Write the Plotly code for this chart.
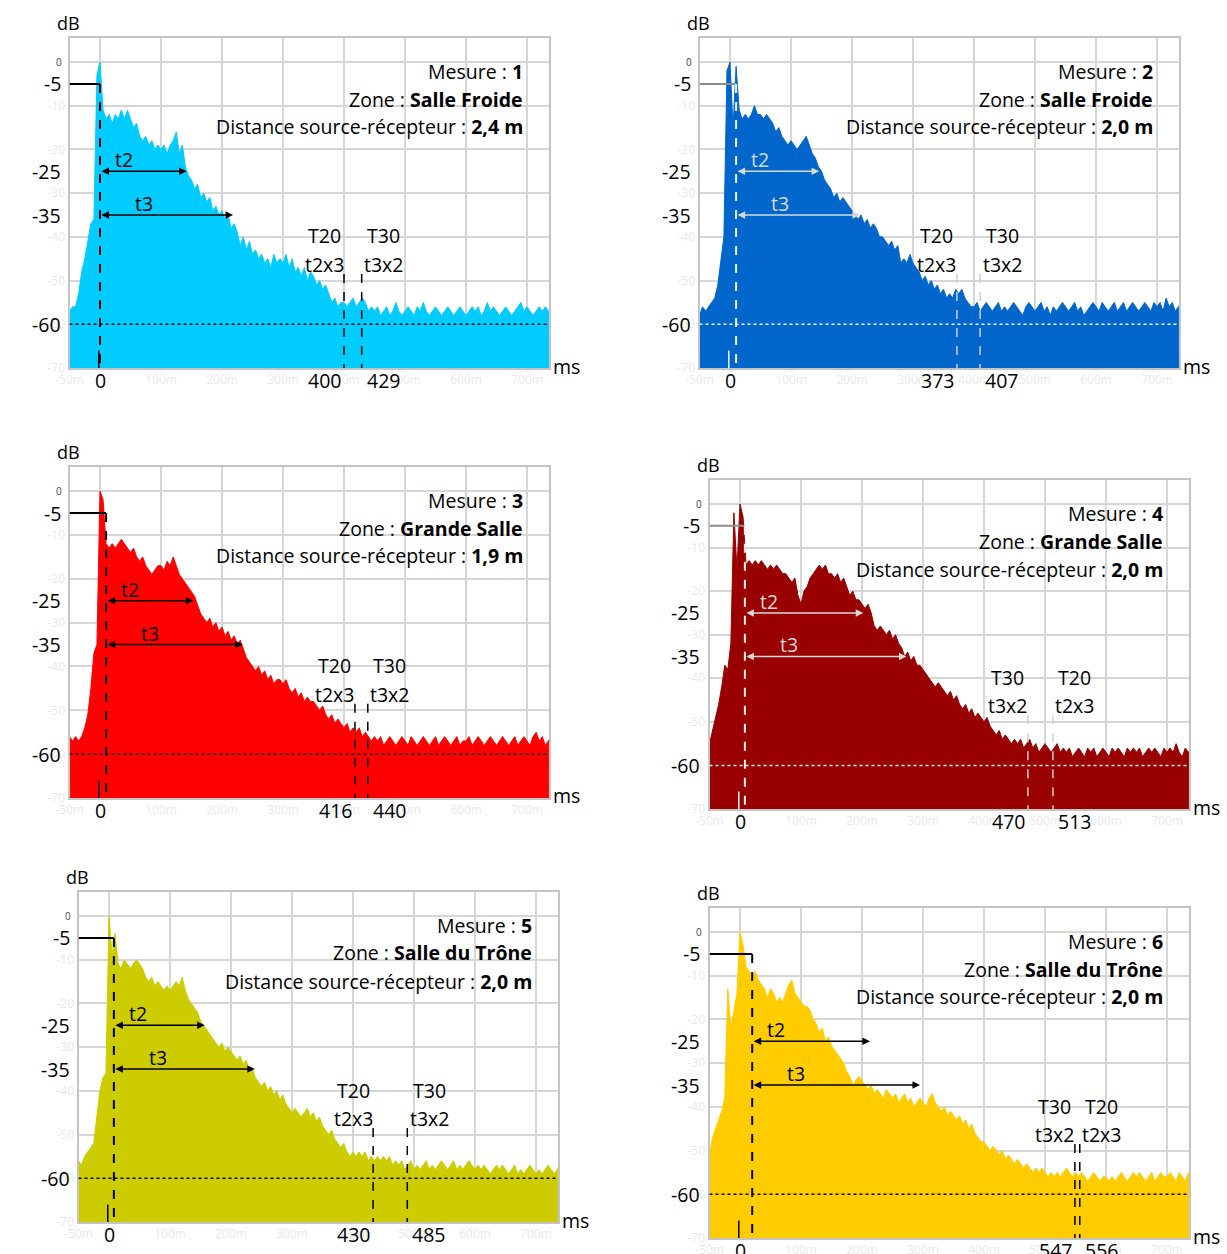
import plotly.graph_objects as go

W, H = 1227, 1254

# time base of the impulse responses (ms), one sample every 5 ms
T_START, T_STEP, N_SAMPLES = -50, 5, 160
t_ms = [T_START + T_STEP * i for i in range(N_SAMPLES)]

# levels in dB (16 rows of 10 samples = 50 ms per row)
level_m1 = [
    -57, -56, -56, -53, -48, -45, -41, -37, -36, -3,
    0, -11, -13, -12, -14, -12, -13, -11, -13, -11,
    -13, -15, -14, -17, -18, -17, -19, -18, -20, -19,
    -20, -19, -21, -19, -18, -16, -21, -19, -24, -26,
    -27, -29, -28, -31, -30, -32, -31, -34, -33, -35,
    -34, -36, -35, -38, -37, -39, -42, -40, -43, -41,
    -44, -43, -45, -44, -46, -45, -47, -44, -46, -45,
    -46, -44, -47, -45, -48, -47, -49, -47, -50, -48,
    -49, -51, -50, -52, -51, -53, -55, -54, -56, -55,
    -55, -56, -55, -54, -56, -55, -54, -55, -57, -56,
    -57, -56, -58, -57, -56, -58, -57, -55, -57, -58,
    -57, -56, -57, -58, -56, -57, -55, -57, -58, -57,
    -56, -57, -58, -57, -56, -57, -58, -57, -56, -57,
    -58, -57, -56, -57, -56, -58, -57, -55, -57, -56,
    -57, -58, -57, -56, -57, -58, -57, -56, -55, -57,
    -56, -57, -58, -57, -56, -57, -56, -57, -58, -57,
]
level_m2 = [
    -58, -56, -57, -56, -55, -54, -51, -46, -40, -2,
    0, -15, -1, -11, -13, -12, -13, -12, -10, -12,
    -12, -13, -12, -13, -14, -16, -15, -17, -18, -19,
    -18, -19, -20, -19, -18, -17, -19, -21, -22, -24,
    -25, -27, -28, -29, -31, -30, -32, -31, -32, -33,
    -34, -35, -36, -35, -37, -36, -38, -37, -38, -40,
    -40, -41, -42, -41, -43, -42, -46, -45, -46, -44,
    -46, -47, -48, -50, -49, -51, -50, -52, -51, -53,
    -52, -54, -53, -54, -52, -53, -52, -54, -55, -56,
    -56, -55, -57, -56, -55, -56, -57, -56, -55, -57,
    -56, -57, -56, -55, -56, -57, -58, -56, -55, -56,
    -57, -56, -55, -57, -56, -58, -56, -57, -56, -55,
    -56, -57, -56, -55, -57, -56, -58, -57, -56, -55,
    -56, -57, -55, -56, -57, -56, -55, -57, -56, -55,
    -57, -56, -55, -56, -57, -56, -55, -56, -57, -55,
    -56, -55, -57, -54, -56, -55, -57, -56, -55, -56,
]
level_m3 = [
    -56, -57, -56, -57, -56, -54, -51, -45, -37, -35,
    0, -2, -12, -13, -12, -13, -12, -11, -12, -13,
    -14, -13, -15, -16, -15, -17, -18, -19, -18, -17,
    -17, -18, -16, -17, -15, -17, -19, -20, -21, -22,
    -23, -24, -26, -28, -29, -30, -29, -31, -30, -32,
    -31, -33, -32, -34, -33, -35, -34, -36, -38, -39,
    -40, -41, -40, -42, -41, -43, -42, -44, -43, -43,
    -44, -43, -45, -46, -45, -47, -46, -48, -47, -48,
    -48, -49, -50, -49, -51, -52, -51, -53, -52, -53,
    -54, -53, -55, -54, -55, -54, -56, -55, -56, -57,
    -56, -57, -56, -58, -57, -56, -57, -58, -57, -56,
    -57, -58, -56, -57, -58, -57, -56, -57, -58, -57,
    -56, -58, -57, -56, -57, -58, -57, -56, -58, -57,
    -57, -56, -58, -57, -56, -57, -58, -57, -56, -57,
    -58, -57, -56, -57, -58, -57, -56, -58, -57, -56,
    -57, -58, -56, -55, -57, -56, -58, -57, -56, -57,
]
level_m4 = [
    -55, -52, -49, -46, -42, -37, -38, -32, -2, -15,
    0, -3, -14, -13, -14, -13, -14, -13, -14, -15,
    -14, -15, -14, -15, -16, -16, -17, -18, -17, -21,
    -23, -20, -19, -17, -16, -15, -14, -15, -14, -16,
    -16, -17, -16, -18, -17, -19, -21, -20, -22, -22,
    -23, -24, -23, -25, -28, -29, -28, -29, -30, -29,
    -31, -30, -32, -33, -35, -34, -36, -35, -37, -37,
    -38, -39, -40, -41, -42, -41, -42, -43, -44, -43,
    -45, -44, -46, -47, -46, -48, -47, -49, -48, -49,
    -50, -49, -51, -52, -53, -52, -54, -53, -54, -55,
    -54, -55, -54, -56, -55, -54, -56, -55, -57, -56,
    -55, -56, -57, -56, -55, -57, -56, -57, -56, -58,
    -57, -56, -57, -58, -56, -57, -56, -58, -57, -56,
    -57, -58, -56, -57, -56, -57, -58, -56, -57, -56,
    -57, -56, -58, -57, -56, -57, -56, -57, -58, -56,
    -57, -56, -57, -55, -57, -58, -56, -57, -56, -57,
]
level_m5 = [
    -56, -57, -55, -54, -53, -52, -46, -40, -37, -36,
    0, -9, -4, -11, -12, -10, -11, -12, -11, -10,
    -11, -12, -14, -15, -14, -16, -15, -16, -17, -16,
    -17, -16, -15, -16, -14, -17, -19, -20, -21, -22,
    -24, -25, -26, -27, -28, -29, -30, -29, -31, -30,
    -31, -32, -33, -32, -34, -33, -36, -35, -37, -38,
    -39, -38, -40, -39, -41, -40, -42, -41, -43, -44,
    -45, -44, -45, -46, -45, -44, -46, -45, -47, -46,
    -48, -49, -50, -49, -51, -52, -53, -52, -54, -55,
    -54, -55, -54, -55, -54, -56, -55, -56, -55, -56,
    -55, -56, -55, -57, -56, -57, -56, -58, -57, -56,
    -58, -57, -58, -57, -56, -58, -57, -58, -57, -56,
    -57, -58, -57, -56, -58, -57, -58, -57, -56, -57,
    -58, -57, -58, -57, -58, -59, -58, -57, -58, -57,
    -58, -59, -58, -57, -59, -58, -59, -58, -57, -58,
    -59, -58, -59, -58, -57, -58, -59, -58, -56, -57,
]
level_m6 = [
    -51, -47, -45, -43, -41, -38, -13, -22, -18, -14,
    0, -3, -8, -9, -10, -9, -11, -12, -13, -15,
    -13, -14, -16, -15, -16, -14, -12, -11, -14, -15,
    -16, -17, -17, -18, -20, -21, -23, -22, -25, -24,
    -26, -27, -28, -29, -30, -32, -33, -35, -34, -33,
    -34, -35, -36, -35, -37, -36, -37, -38, -36, -37,
    -38, -37, -39, -38, -37, -39, -38, -40, -39, -38,
    -39, -40, -38, -37, -39, -40, -41, -40, -42, -41,
    -42, -43, -42, -44, -43, -45, -44, -46, -47, -48,
    -48, -49, -50, -49, -50, -51, -50, -52, -51, -52,
    -53, -52, -53, -54, -53, -54, -55, -54, -55, -54,
    -55, -56, -55, -56, -55, -56, -55, -54, -55, -56,
    -55, -56, -55, -56, -57, -56, -55, -56, -57, -56,
    -56, -57, -56, -57, -56, -55, -56, -57, -56, -55,
    -56, -55, -56, -57, -56, -55, -57, -56, -55, -56,
    -56, -55, -56, -57, -55, -56, -57, -55, -56, -57,
]
levels = [level_m1, level_m2, level_m3, level_m4, level_m5, level_m6]

measures = ["1", "2", "3", "4", "5", "6"]
zones = ["Salle Froide", "Salle Froide", "Grande Salle", "Grande Salle",
         "Salle du Trône", "Salle du Trône"]
distances = ["2,4 m", "2,0 m", "1,9 m", "2,0 m", "2,0 m", "2,0 m"]

# markers (ms): start of decay, end of t2 / t3 arrows, the two T lines
start_ms = [0, 10, 10, 8, 8, 20]
t2_end_ms = [142, 146, 153, 202, 157, 213]
t3_end_ms = [218, 213, 234, 273, 239, 295]
tline_left_ms = [400, 372, 418, 472, 433, 549]
tline_right_ms = [429, 410, 439, 513, 489, 557]
tlabel_left = [("T20", "t2x3"), ("T20", "t2x3"), ("T20", "t2x3"),
               ("T30", "t3x2"), ("T20", "t2x3"), ("T30", "t3x2")]
tlabel_right = [("T30", "t3x2"), ("T30", "t3x2"), ("T30", "t3x2"),
                ("T20", "t2x3"), ("T30", "t3x2"), ("T20", "t2x3")]
bottom_left_txt = ["400", "373", "416", "470", "430", "547"]
bottom_right_txt = ["429", "407", "440", "513", "485", "556"]
db_marks = [-5, -25, -35, -60]

fill_colors = ["#00CCFF", "#0066CC", "#FF0000", "#990000", "#CCCC00", "#FFCC00"]

# panel placement in pixels (0 ms position, plot top, plot bottom)
panels = [
    dict(x0=100, top=38, bottom=368, dark=False),
    dict(x0=730, top=38, bottom=368, dark=True),
    dict(x0=100, top=467, bottom=798, dark=False),
    dict(x0=740, top=480, bottom=809, dark=True),
    dict(x0=109, top=892, bottom=1222, dark=False),
    dict(x0=740, top=908, bottom=1238, dark=False),
]
PX_PER_MS = 0.61
X_RANGE = [-50, 736]
Y_RANGE = [-70, 5.5]
FONT = "Open Sans, Noto Sans, sans-serif"
FS = 19.5


def fx(px):
    return px / W


def fy(py):
    return 1 - py / H


fig = go.Figure()
annotations = []
shapes = []

for i, g in enumerate(panels):
    n = i + 1
    sfx = "" if n == 1 else str(n)
    xa, ya = "x" + sfx, "y" + sfx
    left = g["x0"] + X_RANGE[0] * PX_PER_MS
    right = g["x0"] + X_RANGE[1] * PX_PER_MS
    top, bottom = g["top"], g["bottom"]
    guide = "#f2f2f2" if g["dark"] else "black"
    arrow_col = "#d9d9d9" if g["dark"] else "black"
    tcol = "#cfcfcf" if g["dark"] else "black"

    fig.add_trace(go.Scatter(
        x=t_ms, y=[Y_RANGE[0]] * len(t_ms), mode="lines", line=dict(width=0),
        hoverinfo="skip", showlegend=False, xaxis=xa, yaxis=ya))
    fig.add_trace(go.Scatter(
        x=t_ms, y=levels[i], mode="lines", fill="tonexty",
        fillcolor=fill_colors[i], line=dict(color=fill_colors[i], width=1),
        showlegend=False, xaxis=xa, yaxis=ya))

    fig.layout["xaxis" + sfx] = dict(
        domain=[fx(left), fx(right)], range=X_RANGE, anchor=ya, automargin=False,
        tickvals=[-50, 0, 100, 200, 300, 400, 500, 600, 700],
        ticktext=["-50m", "", "100m", "200m", "300m", "400m", "500m", "600m", "700m"],
        tickfont=dict(size=12, color="#e9e9e9", family=FONT),
        showgrid=True, gridcolor="#d6d6d6", gridwidth=1.5, zeroline=False,
        showline=True, linecolor="#c4c4c4", linewidth=2, mirror=True, ticks="")
    fig.layout["yaxis" + sfx] = dict(
        domain=[fy(bottom), fy(top)], range=Y_RANGE, anchor=xa, automargin=False,
        tickvals=[0, -10, -20, -30, -40, -50, -60, -70],
        ticktext=["", "-10", "-20", "-30", "-40", "-50", "-60", "-70"],
        tickfont=dict(size=12, color="#e9e9e9", family=FONT),
        showgrid=True, gridcolor="#d6d6d6", gridwidth=1.5, zeroline=False,
        showline=True, linecolor="#c4c4c4", linewidth=2, mirror=True, ticks="")

    # -5 dB step, start line, -60 dB dotted line, T lines, zero tick
    shapes.append(dict(type="line", xref=xa, yref=ya, x0=X_RANGE[0], x1=start_ms[i],
                       y0=-5, y1=-5, line=dict(color="#8c8c8c" if g["dark"] else "black", width=2)))
    shapes.append(dict(type="line", xref=xa, yref=ya, x0=start_ms[i], x1=start_ms[i],
                       y0=-5, y1=Y_RANGE[0], line=dict(color=guide, width=2, dash="dash")))
    shapes.append(dict(type="line", xref=xa, yref=ya, x0=X_RANGE[0], x1=X_RANGE[1],
                       y0=-60, y1=-60, line=dict(color=guide, width=1.5, dash="dot")))
    for tl in (tline_left_ms[i], tline_right_ms[i]):
        shapes.append(dict(type="line", xref=xa, yref=ya, x0=tl, x1=tl,
                           y0=-48.5, y1=Y_RANGE[0],
                           line=dict(color=tcol, width=1.5, dash="dash")))
    shapes.append(dict(type="line", xref=xa, yref=ya, x0=-2, x1=-2, y0=-66, y1=Y_RANGE[0],
                       line=dict(color=guide, width=1.5)))

    # t2 / t3 double arrows
    for lvl, tend, lab, dx in ((-25, t2_end_ms[i], "t2", 24), (-35, t3_end_ms[i], "t3", 44)):
        annotations.append(dict(
            xref=xa, yref=ya, axref=xa, ayref=ya, x=tend, y=lvl, ax=start_ms[i], ay=lvl,
            text="", showarrow=True, arrowhead=2, arrowside="end+start",
            arrowsize=1, arrowwidth=1.5, arrowcolor=arrow_col, standoff=0, startstandoff=0))
        annotations.append(dict(
            xref=xa, yref=ya, x=start_ms[i], y=lvl, xshift=dx, yshift=-4,
            text=lab, showarrow=False, xanchor="center", yanchor="bottom",
            font=dict(size=FS, color=arrow_col, family=FONT)))

    # T20 / T30 labels
    for tl, labs, anchor_shift in ((tline_left_ms[i], tlabel_left[i], -20),
                                   (tline_right_ms[i], tlabel_right[i], 22)):
        for txt, lvl in zip(labs, (-39.8, -46.3)):
            annotations.append(dict(
                xref=xa, yref=ya, x=tl, y=lvl, xshift=anchor_shift, text=txt,
                showarrow=False, xanchor="center", yanchor="middle",
                font=dict(size=FS, color="black", family=FONT)))

    # bottom labels
    for xv, txt, anc in ((0, "0", "center"),
                         (tline_left_ms[i], bottom_left_txt[i], "right"),
                         (tline_right_ms[i], bottom_right_txt[i], "left")):
        shift = {"center": 0, "right": -1, "left": 3}[anc]
        annotations.append(dict(
            xref=xa, yref="paper", x=xv, y=fy(bottom), xshift=shift, yshift=3, text=txt,
            showarrow=False, xanchor=anc, yanchor="top",
            font=dict(size=FS, color="black", family=FONT)))

    # dB labels on the left
    for lvl in db_marks:
        annotations.append(dict(
            xref="paper", yref=ya, x=fx(left - 7), y=lvl, text=str(lvl),
            showarrow=False, xanchor="right", yanchor="middle",
            font=dict(size=FS, color="black", family=FONT)))
    annotations.append(dict(
        xref="paper", yref=ya, x=fx(left - 6), y=0, text="0",
        showarrow=False, xanchor="right", yanchor="middle",
        font=dict(size=10, color="#444444", family=FONT)))
    annotations.append(dict(
        xref="paper", yref="paper", x=fx(left - 15), y=fy(top - 1), text="dB",
        showarrow=False, xanchor="left", yanchor="bottom",
        font=dict(size=18, color="black", family=FONT)))
    annotations.append(dict(
        xref="paper", yref="paper", x=fx(right + 2), y=fy(bottom - 2), text="ms",
        showarrow=False, xanchor="left", yanchor="middle",
        font=dict(size=FS, color="black", family=FONT)))

    # title block
    lines = [f"Mesure : <b>{measures[i]}</b>",
             f"Zone : <b>{zones[i]}</b>",
             f"Distance source-récepteur : <b>{distances[i]}</b>"]
    for k, txt in enumerate(lines):
        annotations.append(dict(
            xref="paper", yref="paper", x=fx(right - 24), y=fy(top + 33 + 28 * k),
            text=txt, showarrow=False, xanchor="right", yanchor="middle",
            font=dict(size=FS, color="black", family=FONT)))

fig.update_layout(
    width=W, height=H, margin=dict(l=0, r=0, t=0, b=0, autoexpand=False),
    paper_bgcolor="white", plot_bgcolor="white",
    showlegend=False, annotations=annotations, shapes=shapes,
    font=dict(family=FONT),
)

# the page's default body margin would shift the figure by 8 px
fig.write_html("out.html", config={"displayModeBar": False},
               post_script="document.body.style.margin = '0';")
